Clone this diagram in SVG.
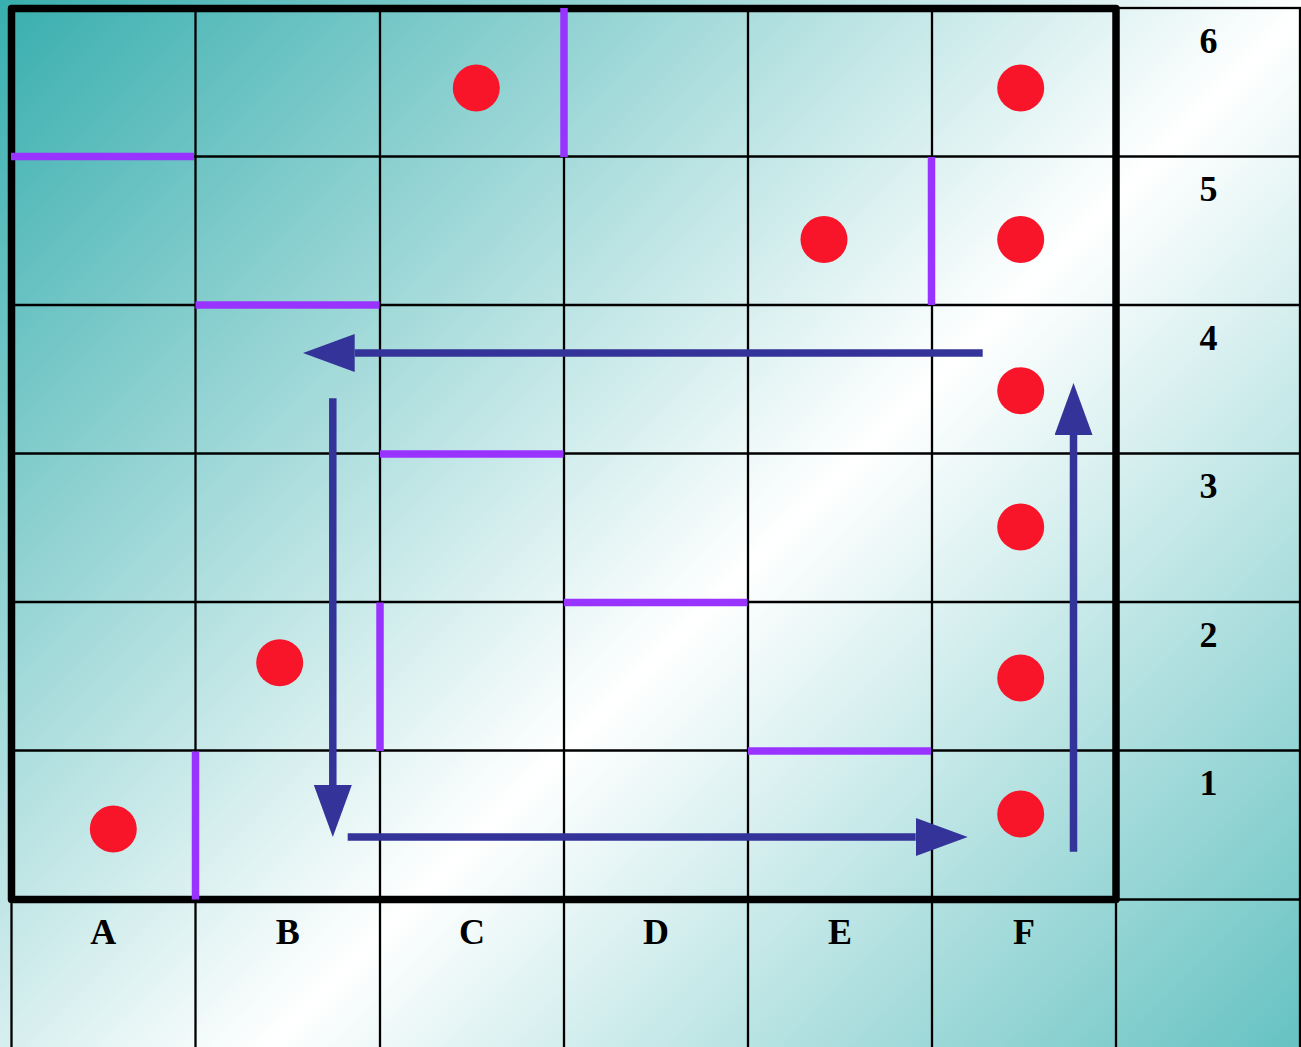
<svg xmlns="http://www.w3.org/2000/svg" width="1301" height="1047" viewBox="0 0 1301 1047">
  <defs>
    <linearGradient id="bg" gradientUnits="userSpaceOnUse" x1="0" y1="0" x2="1174" y2="1174">
      <stop offset="0" stop-color="#38aeae"/>
      <stop offset="0.56" stop-color="#ffffff"/>
      <stop offset="1" stop-color="#66c2c2"/>
    </linearGradient>
    <marker id="head" markerUnits="userSpaceOnUse" viewBox="0 0 52 38" markerWidth="52" markerHeight="38" refX="0" refY="19" orient="auto">
      <path d="M0,0 L52,19 L0,38 Z" fill="#333399"/>
    </marker>
    <style>
      .thin { stroke: #000; stroke-width: 2.3; fill: none; }
      .frame { stroke: #000; stroke-width: 7.5; fill: none; stroke-linejoin: round; }
      .wall { stroke: #9933ff; stroke-width: 7.5; fill: none; }
      .dot { fill: #f8152a; }
      .arrow { stroke: #333399; stroke-width: 7.5; fill: none; marker-end: url(#head); }
      .lbl { font-family: "Liberation Serif", "Times New Roman", serif; font-weight: bold; font-size: 36px; fill: #000; text-anchor: middle; }
    </style>
  </defs>

  <rect id="background" x="0" y="0" width="1301" height="1047" fill="url(#bg)"/>

  <g id="grid">
    <!-- outer table -->
    <rect class="thin" x="11.5" y="8" width="1288.5" height="1045"/>
    <!-- vertical lines -->
    <line class="thin" x1="195.5" y1="8" x2="195.5" y2="1047"/>
    <line class="thin" x1="380" y1="8" x2="380" y2="1047"/>
    <line class="thin" x1="564" y1="8" x2="564" y2="1047"/>
    <line class="thin" x1="748" y1="8" x2="748" y2="1047"/>
    <line class="thin" x1="932" y1="8" x2="932" y2="1047"/>
    <line class="thin" x1="1116" y1="8" x2="1116" y2="1047"/>
    <!-- horizontal lines -->
    <line class="thin" x1="11.5" y1="156.5" x2="1300" y2="156.5"/>
    <line class="thin" x1="11.5" y1="305" x2="1300" y2="305"/>
    <line class="thin" x1="11.5" y1="453.5" x2="1300" y2="453.5"/>
    <line class="thin" x1="11.5" y1="602" x2="1300" y2="602"/>
    <line class="thin" x1="11.5" y1="750.5" x2="1300" y2="750.5"/>
    <line class="thin" x1="11.5" y1="899.5" x2="1300" y2="899.5"/>
    <!-- thick board frame -->
    <rect class="frame" x="11.5" y="8.5" width="1104.5" height="891"/>
  </g>

  <g id="walls">
    <line class="wall" x1="11" y1="156.5" x2="194" y2="156.5"/>
    <line class="wall" x1="564" y1="8" x2="564" y2="157"/>
    <line class="wall" x1="195.5" y1="305" x2="379.5" y2="305"/>
    <line class="wall" x1="931.5" y1="157" x2="931.5" y2="305"/>
    <line class="wall" x1="380" y1="454" x2="563.5" y2="454"/>
    <line class="wall" x1="380" y1="602.5" x2="380" y2="751"/>
    <line class="wall" x1="564" y1="602.5" x2="747.5" y2="602.5"/>
    <line class="wall" x1="748" y1="751" x2="931" y2="751"/>
    <line class="wall" x1="195.5" y1="751.5" x2="195.5" y2="899.5"/>
  </g>

  <g id="dots">
    <circle id="dot-C6" class="dot" cx="476.3" cy="88" r="23.5"/>
    <circle id="dot-F6" class="dot" cx="1020.7" cy="88" r="23.5"/>
    <circle id="dot-E5" class="dot" cx="824" cy="239.5" r="23.5"/>
    <circle id="dot-F5" class="dot" cx="1020.7" cy="239.5" r="23.5"/>
    <circle id="dot-F4" class="dot" cx="1020.7" cy="390.7" r="23.5"/>
    <circle id="dot-F3" class="dot" cx="1020.7" cy="527" r="23.5"/>
    <circle id="dot-F2" class="dot" cx="1020.7" cy="678" r="23.5"/>
    <circle id="dot-B2" class="dot" cx="279.7" cy="662.7" r="23.5"/>
    <circle id="dot-A1" class="dot" cx="113.3" cy="829" r="23.5"/>
    <circle id="dot-F1" class="dot" cx="1020.7" cy="814" r="23.5"/>
  </g>

  <g id="connectors">
    <line class="arrow" x1="982.7" y1="353" x2="354.7" y2="353"/>
    <line class="arrow" x1="332.8" y1="398.3" x2="332.8" y2="785"/>
    <line class="arrow" x1="347.7" y1="837" x2="915.7" y2="837"/>
    <line class="arrow" x1="1073.5" y1="851.7" x2="1073.5" y2="435"/>
  </g>

  <g id="row-labels">
    <text class="lbl" x="1208.5" y="52.5">6</text>
    <text class="lbl" x="1208.5" y="201">5</text>
    <text class="lbl" x="1208.5" y="349.5">4</text>
    <text class="lbl" x="1208.5" y="498">3</text>
    <text class="lbl" x="1208.5" y="646.5">2</text>
    <text class="lbl" x="1208.5" y="795">1</text>
  </g>

  <g id="column-labels">
    <text class="lbl" x="103.3" y="944">A</text>
    <text class="lbl" x="287.7" y="944">B</text>
    <text class="lbl" x="472" y="944">C</text>
    <text class="lbl" x="656" y="944">D</text>
    <text class="lbl" x="840" y="944">E</text>
    <text class="lbl" x="1024" y="944">F</text>
  </g>
</svg>
